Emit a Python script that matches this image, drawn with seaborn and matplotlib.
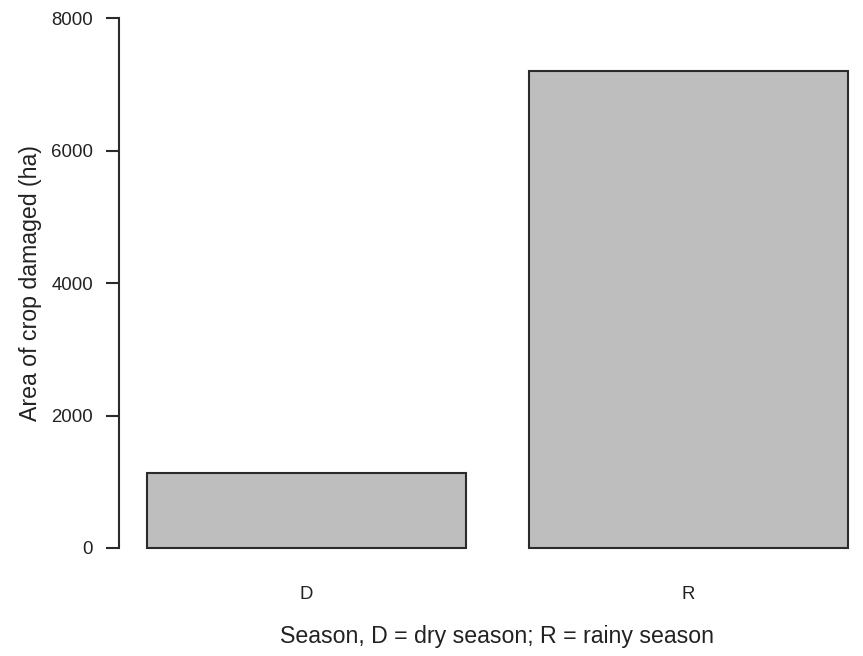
import matplotlib
matplotlib.use("Agg")
import matplotlib.pyplot as plt
import seaborn as sns
import pandas as pd

seasons = ["D", "R"]
area_damaged = [1130, 7200]
y_ticks = [0, 2000, 4000, 6000, 8000]

sns.set_style("white")
plt.rcParams["font.family"] = ["Liberation Sans", "DejaVu Sans"]

df = pd.DataFrame({"season": seasons, "area": area_damaged})

W, H = 863, 656
fig = plt.figure(figsize=(W / 100, H / 100), dpi=100)
ax_left, ax_right, ax_top, ax_bot = 119, 863, 10, 569
ax = fig.add_axes([ax_left / W, (H - ax_bot) / H, (ax_right - ax_left) / W, (ax_bot - ax_top) / H])

sns.barplot(data=df, x="season", y="area", color="#BEBEBE", saturation=1,
            width=0.835, edgecolor="#2b2b2b", linewidth=1.5, errorbar=None, ax=ax)

ax.set_xlim(-0.4908, 1.4568)
ax.set_ylim(-317, 8121)
ax.set_yticks(y_ticks)
ax.set_yticklabels([str(v) for v in y_ticks])

for s in ["top", "right", "bottom"]:
    ax.spines[s].set_visible(False)
ax.spines["left"].set_bounds(0, 8000)
ax.spines["left"].set_color("#2b2b2b")
ax.spines["left"].set_linewidth(1.5)

ax.tick_params(axis="y", length=9.4, width=1.5, color="#2b2b2b", pad=9.4,
               labelsize=13.4, labelcolor="#222222", left=True)
ax.tick_params(axis="x", length=0, pad=12, labelsize=13.4, labelcolor="#222222")

ax.set_xlabel("Season, D = dry season; R = rainy season", fontsize=16.7, color="#222222")
ax.set_ylabel("Area of crop damaged (ha)", fontsize=16.7, color="#222222")
aw = ax_right - ax_left
ah = ax_bot - ax_top
ax.xaxis.set_label_coords((497 - ax_left) / aw, -(636 - ax_bot) / ah)
ax.xaxis.label.set_va("center")
ax.yaxis.set_label_coords((30 - ax_left) / aw, (ax_bot - 283) / ah)
ax.yaxis.label.set_va("center")

fig.savefig("out.png", dpi=100)
